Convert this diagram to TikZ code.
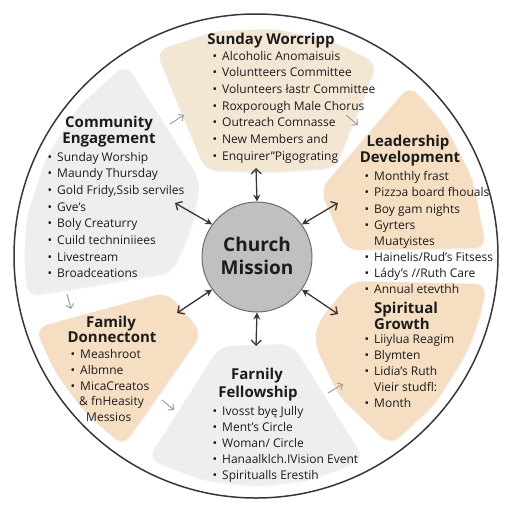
\documentclass[tikz,border=0pt]{standalone}
\usepackage{fontspec}
\setmainfont{Open Sans}
\setsansfont{Open Sans}
\newfontfamily\dejavu{DejaVu Sans}
\usetikzlibrary{arrows.meta,shadows}

\definecolor{beigelt}{RGB}{243,230,211}
\definecolor{beige}{RGB}{246,222,194}
\definecolor{paleg}{RGB}{238,238,238}
\definecolor{inkdark}{RGB}{28,28,28}
\definecolor{rimgray}{RGB}{55,55,55}
\definecolor{hubgray}{RGB}{192,192,192}

\newcommand\bul{\llap{\textbullet\hspace{5pt}}}

\tikzset{
  blob/.style={draw=none, rounded corners=12pt, drop shadow={opacity=0.09, shadow xshift=1pt, shadow yshift=-1.5pt}},
  head/.style={font=\bfseries\fontsize{15}{15}\selectfont, text=inkdark, inner sep=0pt, anchor=base},
  item/.style={font=\fontsize{12}{12}\selectfont, text=inkdark, inner sep=0pt, anchor=base west},
  link/.style={draw=rimgray, line width=1.3pt, {Straight Barb[length=5pt,width=10pt]}-{Stealth[length=7pt,width=7pt]}},
  flow/.style={draw=gray!75, line width=1pt, -{Straight Barb[length=4pt,width=8pt]}},
}

\begin{document}
\begin{tikzpicture}[x=1pt, y=-1pt, font=\sffamily]
  \fill[white] (0,0) rectangle (512,512);
  \useasboundingbox (0,0) rectangle (512,512);
  \draw[rimgray, line width=1.5pt] (256,256) circle (242);

  % segments
  \path[blob, fill=beigelt] (156,51) -- (216,31) -- (276,29) -- (334,42) -- (377,63) -- (335,168) -- (270,172) -- (205,170) -- cycle;
  \path[blob, fill=paleg] (126,64) -- (200,180) -- (192,225) -- (172,272) -- (27,296) -- (24,256) -- (27,216) -- (46,158) -- (78,107) -- cycle;
  \path[blob, fill=beige] (410,85) -- (444,124) -- (472,177) -- (486,248) -- (346,250) -- (320,190) -- cycle;
  \path[blob, fill=beige] (352,281) -- (487,284) -- (479,320) -- (466,354) -- (434,405) -- (390,445) -- (339,396) -- (314,343) -- (318,322) -- cycle;
  \path[blob, fill=beige] (35,328) -- (167,292) -- (202,333) -- (123,446) -- (84,411) -- (55,372) -- cycle;
  \path[blob, fill=paleg] (220,346) -- (292,344) -- (364,459) -- (308,480) -- (256,486) -- (204,480) -- (148,459) -- cycle;

  % hub
  \node[circle, fill=hubgray, draw=gray!85!black, line width=1pt, minimum size=110pt, inner sep=0pt] (mission) at (257,257) {};
  \node[head, font=\bfseries\fontsize{19}{19}\selectfont] (hubA) at (257,251) {Church};
  \node[head, font=\bfseries\fontsize{19}{19}\selectfont] (hubB) at (257,274) {Mission};

  % Sunday Worship
  \node[head] (swH) at (271,44) {Sunday Worcripp};
  \foreach \t [count=\i] in {Alcoholic Anomaisuis, Voluntteers Committee, Volunteers łastr Committee, Roxporough Male Chorus, Outreach Comnasse, New Members and, Enquirer”Pigograting}
    \node[item] (sw\i) at (222,{43.3+16.7*\i}) {\bul\t};

  % Community Engagement
  \node[head] (ceA) at (109,127) {Community};
  \node[head] (ceB) at (109,143) {Engagement};
  \foreach \t [count=\i] in {Sunday Worship, Maundy Thursday, {Gold Fridy,Ssib serviles}, Gve’s, Boly Creaturry, Cuild techniniiees, Livestream, Broadceations}
    \node[item] (ce\i) at (57,{144.3+16.7*\i}) {\bul\t};

  % Leadership Development
  \node[head] (ldA) at (408,146) {Leadership};
  \node[head] (ldB) at (410,162) {Development};
  \node[item] (ld1) at (374,180) {\bul Monthly frast};
  \node[item] (ld2) at (374,196) {\bul Pizz{\dejavu\fontsize{11}{11}\selectfont ɔ}a board fhouals};
  \node[item] (ld3) at (374,213) {\bul Boy gam nights};
  \node[item] (ld4) at (374,229) {\bul Gyrters};
  \node[item] (ld5) at (374,245) {Muatyistes};
  \node[item] (ld6) at (374,261) {\bul Hainelis/Rud’s Fitsess};
  \node[item] (ld7) at (374,277) {\bul Lády’s //Ruth Care};
  \node[item] (ld8) at (374,293) {\bul Annual etevthh};

  % Spiritual Growth
  \node[head, anchor=base west] (sgA) at (374,313) {Spiritual};
  \node[head, anchor=base west] (sgB) at (374,329) {Growth};
  \node[item] (sg1) at (374,343) {\bul Liiylua Reagim};
  \node[item] (sg2) at (374,359) {\bul Blymten};
  \node[item] (sg3) at (374,375) {\bul Lidia’s Ruth};
  \node[item] (sg4) at (374,391) {Vieir studfl:};
  \node[item] (sg5) at (374,407) {\bul Month};

  % Family Donnectont
  \node[head] (fdA) at (111,327) {Family};
  \node[head] (fdB) at (112,342) {Donnectont};
  \node[item] (fd1) at (80,358) {\bul Meashroot};
  \node[item] (fd2) at (80,374) {\bul Albmne};
  \node[item] (fd3) at (80,390) {\bul MicaCreatos};
  \node[item] (fd4) at (79,405) {\& fnHeasity};
  \node[item] (fd5) at (86,421) {Messios};

  % Family Fellowship
  \node[head] (ffA) at (257,379) {Farnily};
  \node[head] (ffB) at (258,397) {Fellowship};
  \foreach \t [count=\i] in {Ivosst byę Jully, Ment’s Circle, Woman/ Circle, Hanaalklch.IVision Event, Spiritualls Erestih}
    \node[item] (ff\i) at (222,{399+16*\i}) {\bul\t};

  % links to the hub
  \coordinate (swTip) at (256,168);
  \coordinate (ceTip) at (175,203);
  \coordinate (ldTip) at (338,203);
  \coordinate (fdTip) at (177,313);
  \coordinate (sgTip) at (338,314);
  \coordinate (ffTip) at (256,346);
  \draw[link] (swTip) -- (mission.north);
  \draw[link] (ceTip) -- (mission.144);
  \draw[link] (ldTip) -- (mission.36);
  \draw[link] (fdTip) -- (mission.216);
  \draw[link] (sgTip) -- (mission.324);
  \draw[link] (ffTip) -- (mission.south);

  % flow between segments
  \coordinate (ceOut) at (170,124); \coordinate (swIn) at (184,115);
  \coordinate (swOut) at (346,115); \coordinate (ldIn) at (358,125);
  \coordinate (ceDown) at (67,294); \coordinate (fdIn) at (71,309);
  \coordinate (fdOut) at (162,400); \coordinate (ffIn) at (174,410);
  \coordinate (ffOut) at (328,393); \coordinate (sgIn) at (343,384);
  \draw[flow] (ceOut) -- (swIn);
  \draw[flow] (swOut) -- (ldIn);
  \draw[flow] (ceDown) -- (fdIn);
  \draw[flow] (fdOut) -- (ffIn);
  \draw[flow] (ffOut) -- (sgIn);
\end{tikzpicture}
\end{document}
